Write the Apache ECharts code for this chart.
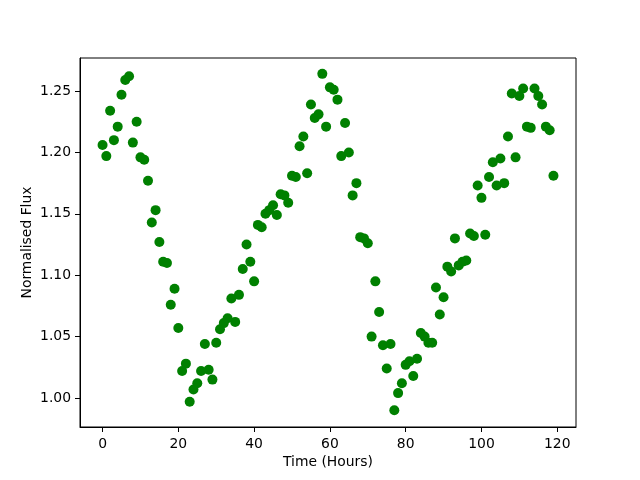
<!DOCTYPE html>
<html>
<head>
<meta charset="utf-8">
<script src="https://cdn.jsdelivr.net/npm/echarts@6/dist/echarts.min.js"></script>
<style>html,body{margin:0;padding:0;background:#fff;}#c{width:640px;height:480px;}</style>
</head>
<body>
<div id="c"></div>
<script>
var hours = [];
for (var h = 0; h < 120; h++) hours.push(h);
var flux = [
1.206,1.197,1.234,1.210,1.221,1.247,1.259,1.262,1.208,1.225,
1.196,1.194,1.177,1.143,1.153,1.127,1.111,1.110,1.076,1.089,
1.057,1.022,1.028,0.997,1.007,1.012,1.022,1.044,1.023,1.015,
1.045,1.056,1.061,1.065,1.081,1.062,1.084,1.105,1.125,1.111,
1.095,1.141,1.139,1.150,1.153,1.157,1.149,1.166,1.165,1.159,
1.181,1.180,1.205,1.213,1.183,1.239,1.228,1.231,1.264,1.221,
1.253,1.251,1.243,1.197,1.224,1.200,1.165,1.175,1.131,1.130,
1.126,1.050,1.095,1.070,1.043,1.024,1.044,0.990,1.004,1.012,
1.027,1.030,1.018,1.032,1.053,1.050,1.045,1.045,1.090,1.068,
1.082,1.107,1.103,1.130,1.108,1.111,1.112,1.134,1.132,1.173,
1.163,1.133,1.180,1.192,1.173,1.195,1.175,1.213,1.248,1.196,
1.246,1.252,1.221,1.220,1.252,1.246,1.239,1.221,1.218,1.181
];
var xTicks = [0, 20, 40, 60, 80, 100, 120];
var yTicks = [1.00, 1.05, 1.10, 1.15, 1.20, 1.25];
var xLabel = 'Time (Hours)';
var yLabel = 'Normalised Flux';

var pts = hours.map(function (h, i) { return [h, flux[i]]; });
var font = 'DejaVu Sans';
var chart = echarts.init(document.getElementById('c'), null, {renderer: 'canvas'});
chart.setOption({
  animation: false,
  backgroundColor: '#ffffff',
  grid: {left: 80, top: 58, width: 496, height: 369, show: true, borderColor: '#000', borderWidth: 1, backgroundColor: 'transparent', containLabel: false},
  xAxis: {
    type: 'value', min: -5.95, max: 124.95,
    name: xLabel, nameLocation: 'middle', nameGap: 28, nameMoveOverlap: false,
    nameTextStyle: {fontFamily: font, fontSize: 13.9, color: '#000'},
    axisLine: {show: true, onZero: false, lineStyle: {color: '#000', width: 1}},
    axisTick: {show: true, length: 5, lineStyle: {color: '#000'}, customValues: xTicks},
    axisLabel: {fontFamily: font, fontSize: 13.9, color: '#000', margin: 10, customValues: xTicks,
      formatter: function (v) { return String(Math.round(v)); }},
    splitLine: {show: false}
  },
  yAxis: {
    type: 'value', min: 0.9764, max: 1.2769,
    name: yLabel, nameLocation: 'middle', nameGap: 46, nameMoveOverlap: false,
    nameTextStyle: {fontFamily: font, fontSize: 13.9, color: '#000', verticalAlign: 'bottom'},
    axisLine: {show: true, onZero: false, lineStyle: {color: '#000', width: 1}},
    axisTick: {show: true, length: 5, lineStyle: {color: '#000'}, customValues: yTicks},
    axisLabel: {fontFamily: font, fontSize: 13.9, color: '#000', margin: 9, customValues: yTicks,
      formatter: function (v) { return v.toFixed(2); }},
    splitLine: {show: false}
  },
  series: [{
    type: 'scatter', data: pts, symbol: 'circle', symbolSize: 10,
    itemStyle: {color: '#008000', opacity: 1}
  }]
});
</script>
</body>
</html>
